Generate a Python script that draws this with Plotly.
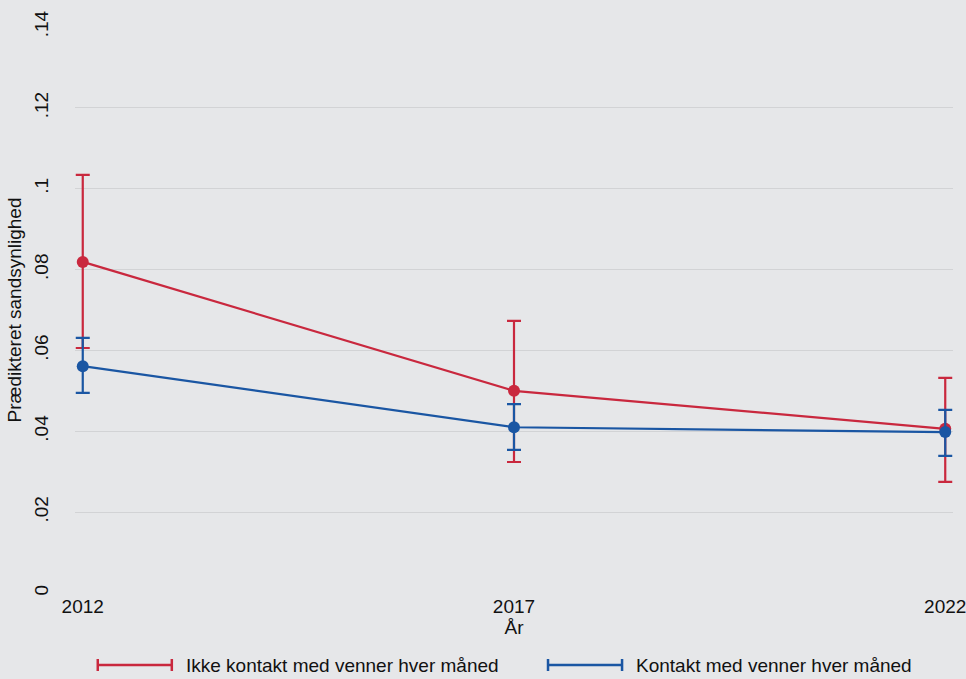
import plotly.graph_objects as go

# Survey years
years = [2012, 2017, 2022]

# Predicted probabilities with 95% confidence limits
no_contact = [0.0819, 0.0500, 0.0406]
no_contact_lo = [0.0606, 0.0324, 0.0275]
no_contact_hi = [0.1034, 0.0673, 0.0532]

contact = [0.0561, 0.0410, 0.0398]
contact_lo = [0.0495, 0.0354, 0.0339]
contact_hi = [0.0631, 0.0467, 0.0453]

series_names = ["Ikke kontakt med venner hver måned", "Kontakt med venner hver måned"]

y_tickvals = [0, 0.02, 0.04, 0.06, 0.08, 0.10, 0.12, 0.14]
y_ticktext = ["0", ".02", ".04", ".06", ".08", ".1", ".12", ".14"]

RED = "#c9283e"
BLUE = "#1a56a3"
BG = "#e6e7e9"
GRID = "#d2d3d5"
FONT = "Liberation Sans, Arial, sans-serif"
FS = 19

# Pixel geometry of the plotting region
W, H = 966, 679
X_LEFT, X_RIGHT = 83, 945      # where the first and last year sit
Y_TOP, Y_BOTTOM = 27, 593      # where .14 and 0 sit
PAD_YEARS = 0.09               # small x padding so the end caps are not clipped
px_per_year = (X_RIGHT - X_LEFT) / (years[-1] - years[0])
pad_px = PAD_YEARS * px_per_year

fig = go.Figure()


def add_series(y, lo, hi, color, name):
    fig.add_trace(go.Scatter(
        x=years, y=y, name=name, mode="lines+markers",
        line=dict(color=color, width=2.2),
        marker=dict(color=color, size=12),
        error_y=dict(type="data", symmetric=False,
                     array=[h - v for h, v in zip(hi, y)],
                     arrayminus=[v - l for v, l in zip(y, lo)],
                     color=color, thickness=2.2, width=7),
        cliponaxis=False, showlegend=False,
    ))


add_series(no_contact, no_contact_lo, no_contact_hi, RED, series_names[0])
add_series(contact, contact_lo, contact_hi, BLUE, series_names[1])

fig.update_layout(
    width=W, height=H,
    margin=dict(l=X_LEFT - pad_px, r=W - X_RIGHT - pad_px, t=Y_TOP, b=H - Y_BOTTOM),
    paper_bgcolor=BG, plot_bgcolor=BG,
    font=dict(family=FONT, size=FS, color="#111111"),
    showlegend=False,
)

fig.update_xaxes(
    range=[years[0] - PAD_YEARS, years[-1] + PAD_YEARS],
    tickvals=years, ticktext=[str(v) for v in years],
    showgrid=False, zeroline=False, showline=False, automargin=False,
    ticks="", tickfont=dict(size=FS), ticklabeloverflow="allow",
    title=dict(text="År", font=dict(size=FS), standoff=4),
)
fig.update_yaxes(
    range=[0, 0.14], tickvals=y_tickvals, ticktext=y_ticktext,
    showgrid=True, gridcolor=GRID, gridwidth=1.3,
    zeroline=False, showline=False, ticks="", automargin=False,
    tickangle=-90, tickfont=dict(size=FS), ticklabelstandoff=22,
    title=dict(text="Prædikteret sandsynlighed", font=dict(size=FS), standoff=4),
)

# Legend keys drawn as capped lines below the plot
plot_w = (X_RIGHT - X_LEFT) + 2 * pad_px
plot_h = Y_BOTTOM - Y_TOP


def px_x(px):
    return (px - (X_LEFT - pad_px)) / plot_w


def px_y(py):
    return (Y_BOTTOM - py) / plot_h


legend_items = [(98, RED, series_names[0]), (548, BLUE, series_names[1])]
ly = px_y(665)
for x0px, color, label in legend_items:
    x0, x1 = px_x(x0px), px_x(x0px + 74)
    fig.add_shape(type="line", xref="paper", yref="paper", x0=x0, x1=x1, y0=ly, y1=ly,
                  line=dict(color=color, width=2.5))
    for xc in (x0, x1):
        fig.add_shape(type="line", xref="paper", yref="paper", x0=xc, x1=xc,
                      y0=ly - 6 / plot_h, y1=ly + 6 / plot_h, line=dict(color=color, width=2.5))
    fig.add_annotation(xref="paper", yref="paper", x=px_x(x0px + 86), y=ly, text=label,
                       showarrow=False, xanchor="left", yanchor="middle",
                       font=dict(family=FONT, size=FS, color="#111111"))

fig.write_html("out.html")
